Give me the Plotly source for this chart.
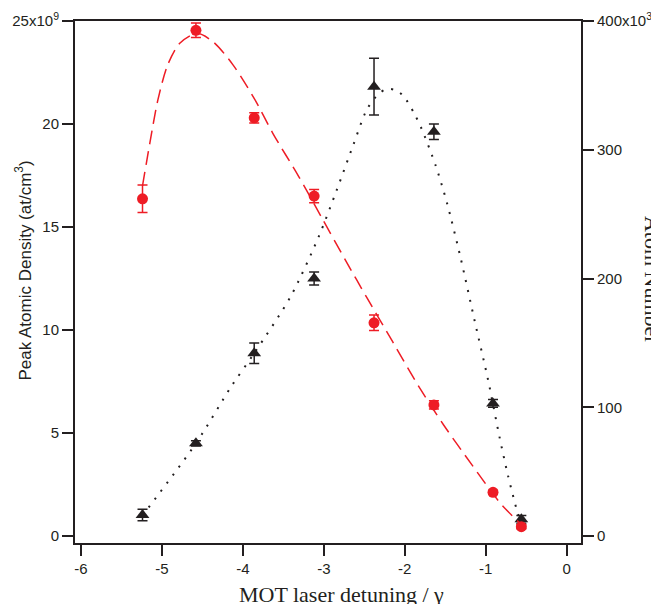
import plotly.graph_objects as go

# ---- data ----
detuning = [-5.24, -4.58, -3.86, -3.12, -2.38, -1.64, -0.91, -0.56]
density_1e9 = [16.37, 24.55, 20.3, 16.5, 10.35, 6.36, 2.12, 0.45]
density_err = [0.67, 0.35, 0.25, 0.32, 0.38, 0.2, 0.1, 0.1]
atoms_1e3 = [16.3, 72, 142, 200, 349, 314, 103, 13]
atoms_err = [4.5, 2, 8, 5, 22, 6, 3, 3]

fit_density_x = [-5.24, -5.15, -5.05, -4.93, -4.78, -4.57, -4.37, -4.12, -3.85, -3.63,
                 -3.31, -3.02, -2.73, -2.47, -2.15, -1.83, -1.52, -1.17, -0.81, -0.56]
fit_density_y = [17.0, 19.06, 21.17, 22.86, 23.92, 24.40, 24.0, 22.86, 21.17, 19.55,
                 17.45, 15.41, 13.37, 11.58, 9.43, 7.28, 5.39, 3.45, 1.55, 0.55]

fit_atoms_x = [-5.24, -4.58, -4.14, -3.86, -3.41, -3.06, -2.845, -2.64, -2.47, -2.33,
               -2.23, -2.12, -2.02, -1.89, -1.79, -1.62, -1.48, -1.31, -1.14, -0.97,
               -0.83, -0.725, -0.61, -0.56]
fit_atoms_y = [16, 72, 116.5, 142, 186, 233, 268, 303, 331, 343,
               347, 346.5, 342, 329, 316, 288, 259, 216, 168, 121,
               77, 47, 19, 10]

x_ticks = [-6, -5, -4, -3, -2, -1, 0]
x_ticktext = ["-6", "-5", "-4", "-3", "-2", "-1", "0"]
left_ticks = [0, 5, 10, 15, 20, 25]
left_ticktext = ["0", "5", "10", "15", "20", "25x10<sup>9</sup>"]
right_ticks = [0, 100, 200, 300, 400]
right_ticktext = ["0", "100", "200", "300", "400x10<sup>3</sup>"]

RED = "#EE1C25"
BLK = "#231F20"

fig = go.Figure()

# black (atom number) on primary y (right side)
fig.add_trace(go.Scatter(x=fit_atoms_x, y=fit_atoms_y, mode="lines", yaxis="y",
                         line=dict(color=BLK, width=2, dash="2px,8px", shape="spline", smoothing=0.8),
                         hoverinfo="skip", showlegend=False))
fig.add_trace(go.Scatter(x=detuning, y=atoms_1e3, mode="markers", yaxis="y",
                         marker=dict(symbol="triangle-up", size=12, color=BLK),
                         error_y=dict(type="data", array=atoms_err, color=BLK, thickness=1.5, width=5),
                         showlegend=False))
# red (density) on overlaying y2 (left side)
fig.add_trace(go.Scatter(x=fit_density_x, y=fit_density_y, mode="lines", yaxis="y2",
                         line=dict(color=RED, width=1.5, dash="14px,7px", shape="spline", smoothing=0.8),
                         hoverinfo="skip", showlegend=False))
fig.add_trace(go.Scatter(x=detuning, y=density_1e9, mode="markers", yaxis="y2",
                         marker=dict(symbol="circle", size=11, color=RED),
                         error_y=dict(type="data", array=density_err, color=RED, thickness=1.5, width=5),
                         showlegend=False))

tickfont = dict(family="Liberation Sans, Arial, sans-serif", size=15, color=BLK)

fig.update_layout(
    width=651, height=596,
    margin=dict(l=67, r=78, t=13, b=61),
    paper_bgcolor="white", plot_bgcolor="white",
    xaxis=dict(range=[-6.074, 0.177], tickvals=x_ticks, ticktext=x_ticktext, ticks="outside",
               ticklen=11, tickwidth=2, tickcolor=BLK, showline=True, linewidth=2, linecolor=BLK,
               mirror=True, showgrid=False, zeroline=False, tickfont=tickfont, automargin=False),
    yaxis=dict(side="right", range=[-5.4, 400], tickvals=right_ticks, ticktext=right_ticktext,
               ticks="outside", ticklen=11, tickwidth=2, tickcolor=BLK, showline=True,
               linewidth=2, linecolor=BLK, showgrid=False, zeroline=False, tickfont=tickfont,
               automargin=False),
    yaxis2=dict(side="left", overlaying="y", range=[-0.34, 25], tickvals=left_ticks,
                ticktext=left_ticktext, ticks="outside", ticklen=11, tickwidth=2, tickcolor=BLK,
                showline=True, linewidth=2, linecolor=BLK, showgrid=False, zeroline=False,
                tickfont=tickfont, automargin=False),
    annotations=[
        dict(text="MOT laser detuning / γ", xref="paper", yref="paper", x=0.5257, y=-0.0996,
             xanchor="center", yanchor="middle", showarrow=False,
             font=dict(family="Liberation Serif, Times New Roman, serif", size=22, color=BLK)),
        dict(text="Peak Atomic Density (at/cm<sup>3</sup>)", xref="paper", yref="paper",
             x=(23 - 75) / 506, y=0.522, xanchor="center", yanchor="middle", textangle=-90,
             showarrow=False,
             font=dict(family="Liberation Sans, Arial, sans-serif", size=17, color=BLK)),
        dict(text="Atom Number", xref="paper", yref="paper", x=(652 - 75) / 506, y=0.504,
             xanchor="center", yanchor="middle", textangle=90, showarrow=False,
             font=dict(family="Liberation Serif, Times New Roman, serif", size=22, color=BLK)),
    ],
)

fig.write_html("out.html")
